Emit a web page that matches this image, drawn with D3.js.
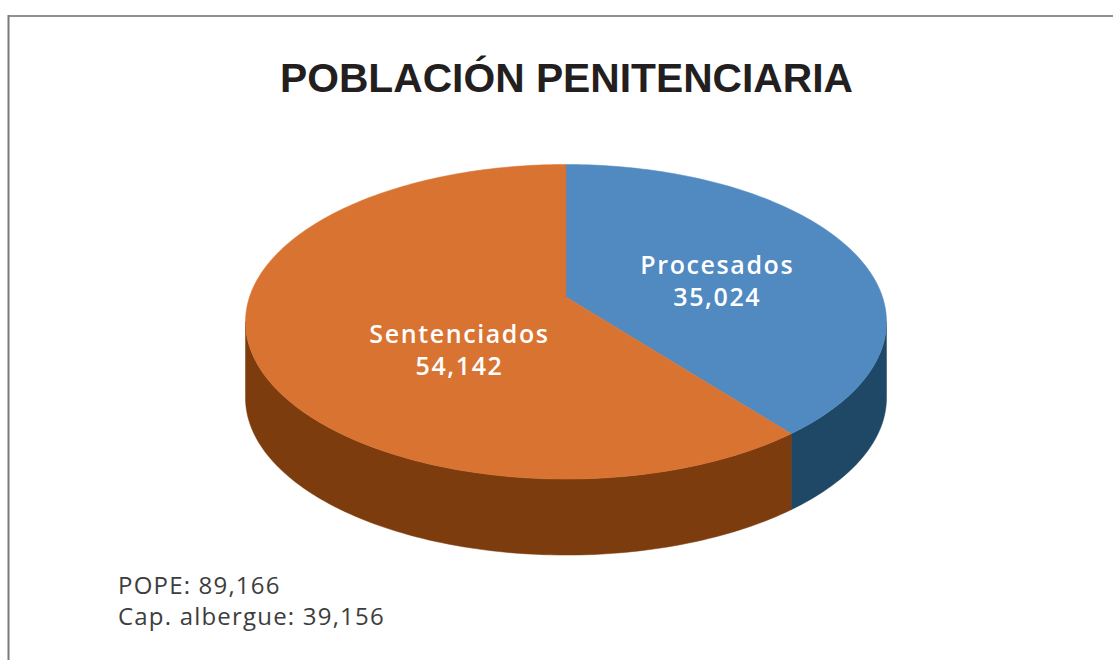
<!DOCTYPE html>
<html>
<head>
<meta charset="utf-8">
<script src="https://cdn.jsdelivr.net/npm/d3@7"></script>
<style>
  body { margin: 0; background: #fff; }
  svg { display: block; }
</style>
</head>
<body>
<svg width="1113" height="660"></svg>
<script>
// data
var categories = ["Procesados", "Sentenciados"]
var values = [35024, 54142]
var valueLabels = ["35,024", "54,142"]
var title = "POBLACIÓN PENITENCIARIA"
var notes = ["POPE: 89,166", "Cap. albergue: 39,156"]

var topColors = ["#508ac1", "#d97332"]
var sideColors = ["#1f4867", "#7d3c0d"]

var svg = d3.select("svg")

// frame
svg.append("line").attr("x1", 8).attr("x2", 1113).attr("y1", 16).attr("y2", 16)
  .attr("stroke", "#919191").attr("stroke-width", 2)
svg.append("line").attr("x1", 8.5).attr("x2", 8.5).attr("y1", 15).attr("y2", 660)
  .attr("stroke", "#7a7a7a").attr("stroke-width", 2)

svg.append("text")
  .attr("x", 566.5).attr("y", 92)
  .attr("text-anchor", "middle")
  .attr("font-family", "Liberation Sans, Arial, sans-serif")
  .attr("font-weight", 700)
  .attr("font-size", 41)
  .attr("textLength", 573)
  .attr("lengthAdjust", "spacingAndGlyphs")
  .attr("fill", "#231f20")
  .text(title)

// perspective pie: unit disc -> screen
var cx = 566, cy = 297, a = 316.5, b = 153.4, k = -0.1574, depth = 76
function proj(theta, r) {
  var u = r * Math.sin(theta), v = -r * Math.cos(theta)
  var w = 1 + k * v
  return [cx + a * u / w, cy + b * v / w]
}

var pie = d3.pie().sort(null).value(function(d) { return d })
var arcs = pie(values)

var line = d3.line()

function edge(t0, t1, dy) {
  var n = Math.max(2, Math.ceil(Math.abs(t1 - t0) / 0.02))
  var pts = []
  for (var i = 0; i <= n; i++) {
    var p = proj(t0 + (t1 - t0) * i / n, 1)
    pts.push([p[0], p[1] + dy])
  }
  return pts
}

// visible front side lies between the silhouette angles
var sLeft = Math.acos(k), sRight = 2 * Math.PI - Math.acos(k)

var gSide = svg.append("g")
arcs.forEach(function(d, i) {
  var t0 = Math.max(d.startAngle, sLeft), t1 = Math.min(d.endAngle, sRight)
  if (t1 <= t0) return
  var pts = edge(t0, t1, 0).concat(edge(t1, t0, depth))
  gSide.append("path")
    .attr("d", line(pts) + "Z")
    .attr("fill", sideColors[i])
    .attr("stroke", sideColors[i]).attr("stroke-width", 0.5)
})

var gTop = svg.append("g")
arcs.forEach(function(d, i) {
  var pts = [[cx, cy]].concat(edge(d.startAngle, d.endAngle, 0))
  gTop.append("path")
    .attr("d", line(pts) + "Z")
    .attr("fill", topColors[i])
    .attr("stroke", topColors[i]).attr("stroke-width", 0.5)
})

// labels
var labelPos = [{r: 0.52, dy: 3}, {r: 0.35, dy: 28}]
arcs.forEach(function(d, i) {
  var p = proj((d.startAngle + d.endAngle) / 2, labelPos[i].r)
  var g = svg.append("g")
    .attr("text-anchor", "middle")
    .attr("font-family", "Open Sans, sans-serif")
    .attr("font-weight", 600)
    .attr("font-size", 25)
    .attr("letter-spacing", 1.6)
    .attr("fill", "#fff")
  g.append("text").attr("x", p[0]).attr("y", p[1] + labelPos[i].dy).text(categories[i])
  g.append("text").attr("x", p[0]).attr("y", p[1] + labelPos[i].dy + 32).text(valueLabels[i])
})

notes.forEach(function(s, i) {
  svg.append("text")
    .attr("x", 118).attr("y", 594 + i * 31)
    .attr("font-family", "Open Sans, sans-serif")
    .attr("font-size", 24)
    .attr("letter-spacing", 1.2)
    .attr("fill", "#3d3d3d")
    .text(s)
})
</script>
</body>
</html>
